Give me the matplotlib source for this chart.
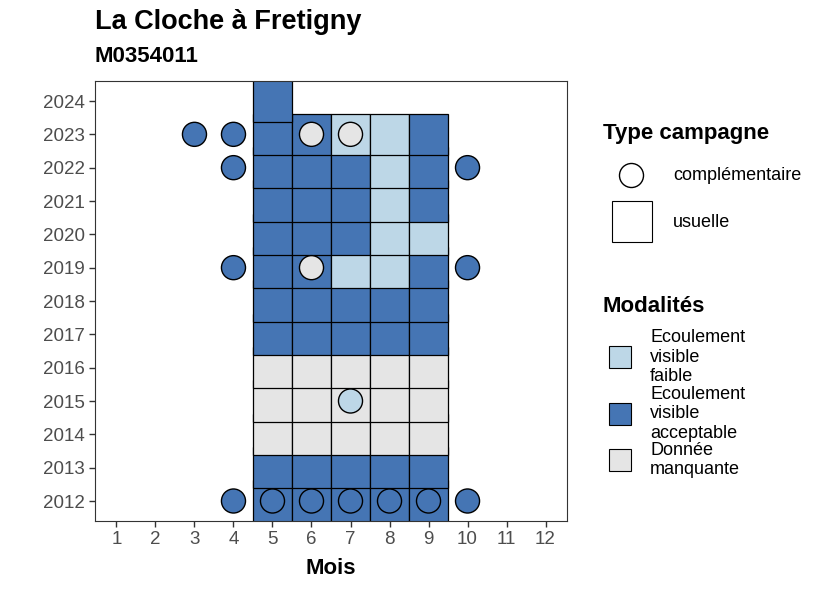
import matplotlib
matplotlib.use("Agg")
import matplotlib.pyplot as plt
from matplotlib.patches import Rectangle

plt.rcParams["font.family"] = ["Liberation Sans", "DejaVu Sans"]

# colours per modality
COLORS = {
    "faible": "#BDD7E7",
    "acceptable": "#4575B4",
    "manquante": "#E5E5E5",
}

# usual campaigns (tiles): months 5..9 per year
TILE_MONTHS = [5, 6, 7, 8, 9]
TILE_YEARS = list(range(2012, 2024))
# one row per year, A = acceptable, F = faible, M = manquante
TILE_ROWS = {
    2012: "AAAAA",
    2013: "AAAAA",
    2014: "MMMMM",
    2015: "MMMMM",
    2016: "MMMMM",
    2017: "AAAAA",
    2018: "AAAAA",
    2019: "AAFFA",
    2020: "AAAFF",
    2021: "AAAFA",
    2022: "AAAFA",
    2023: "AAFFA",
}
EXTRA_TILE_YEAR = [2024]
EXTRA_TILE_MONTH = [5]
EXTRA_TILE_MOD = ["A"]

# complementary campaigns (points)
PT_YEAR = [2012, 2012, 2012, 2012, 2012, 2012, 2012,
           2015, 2019, 2019, 2019, 2022, 2022, 2023, 2023, 2023, 2023]
PT_MONTH = [4, 5, 6, 7, 8, 9, 10,
            7, 4, 6, 10, 4, 10, 3, 4, 6, 7]
PT_MOD = ["A", "A", "A", "A", "A", "A", "A",
          "F", "A", "M", "A", "A", "A", "A", "A", "M", "M"]

CODE = {"A": "acceptable", "F": "faible", "M": "manquante"}
LEGEND_LABELS = ["Ecoulement\nvisible\nfaible",
                 "Ecoulement\nvisible\nacceptable",
                 "Donnée\nmanquante"]
LEGEND_KEYS = ["faible", "acceptable", "manquante"]

W, H = 826, 590
fig = plt.figure(figsize=(W / 100, H / 100), dpi=100)


def fx(px):
    return px / W


def fy(py):
    return 1 - py / H


ax = fig.add_axes([fx(95), fy(521), fx(567) - fx(95), fy(81) - fy(521)])
ax.set_xlim(0.45, 12.55)
ax.set_ylim(2011.4, 2024.6)

TILE_H = 1.23
tiles = []
for year in TILE_YEARS:
    for m, code in zip(TILE_MONTHS, TILE_ROWS[year]):
        tiles.append((year, m, code))
for year, m, code in zip(EXTRA_TILE_YEAR, EXTRA_TILE_MONTH, EXTRA_TILE_MOD):
    tiles.append((year, m, code))

# drawn in ascending year order, each row overlapping the one below
for year, m, code in tiles:
    ax.bar(m, TILE_H, width=1.0, bottom=year - TILE_H / 2,
           color=COLORS[CODE[code]], edgecolor="black", linewidth=0.9,
           zorder=2)

ax.scatter(PT_MONTH, PT_YEAR, s=300,
           c=[COLORS[CODE[c]] for c in PT_MOD],
           edgecolors="black", linewidths=1.0, zorder=3)

ax.set_xticks(range(1, 13))
ax.set_yticks(range(2012, 2025))
ax.tick_params(axis="both", labelsize=13.5, labelcolor="#4D4D4D",
               color="#333333", length=4, width=1)
for s in ax.spines.values():
    s.set_color("#333333")
    s.set_linewidth(0.8)
ax.set_xlabel("Mois", fontsize=16, fontweight="bold", labelpad=7)

fig.text(fx(95), fy(22), "La Cloche à Fretigny", fontsize=19.5,
         fontweight="bold", va="center", ha="left")
fig.text(fx(95), fy(57), "M0354011", fontsize=16,
         fontweight="bold", va="center", ha="left")

# legend: Type campagne
fig.text(fx(603), fy(134), "Type campagne", fontsize=16,
         fontweight="bold", va="center", ha="left")
circ = plt.Line2D([fx(631)], [fy(175)], marker="o", markersize=17.3,
                  markerfacecolor="white", markeredgecolor="black",
                  markeredgewidth=1.0, transform=fig.transFigure)
fig.add_artist(circ)
fig.text(fx(673), fy(175), "complémentaire", fontsize=13,
         va="center", ha="left")
fig.add_artist(Rectangle((fx(612), fy(242)), fx(40), fy(201) - fy(242),
                         facecolor="white", edgecolor="black", lw=0.8,
                         transform=fig.transFigure))
fig.text(fx(673), fy(222), "usuelle", fontsize=13, va="center", ha="left")

# legend: Modalités
fig.text(fx(603), fy(307), "Modalités", fontsize=16,
         fontweight="bold", va="center", ha="left")
for key, label, cy in zip(LEGEND_KEYS, LEGEND_LABELS, [357, 414, 460]):
    fig.add_artist(Rectangle((fx(609), fy(cy + 11)), fx(22), fy(cy - 11) - fy(cy + 11),
                             facecolor=COLORS[key], edgecolor="black", lw=0.8,
                             transform=fig.transFigure))
    fig.text(fx(650), fy(cy), label, fontsize=13, va="center", ha="left",
             linespacing=1.17)

fig.savefig("out.png", dpi=100)
